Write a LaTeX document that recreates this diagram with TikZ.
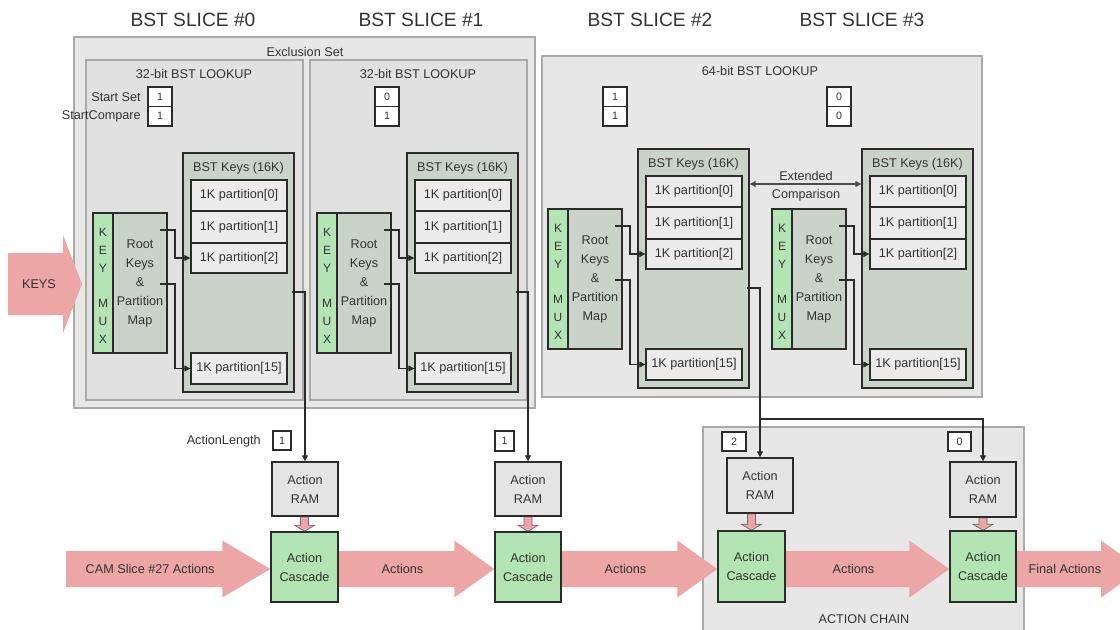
\documentclass[tikz,border=0pt]{standalone}
\usepackage{fontspec}
\setmainfont{Liberation Sans}
\usetikzlibrary{arrows.meta,calc}

\definecolor{txtc}{HTML}{333333}
\definecolor{linec}{HTML}{2B2B2B}
\definecolor{grayline}{HTML}{A9A9A9}
\definecolor{grpfillA}{HTML}{E7E7E7}
\definecolor{grpfillB}{HTML}{E1E1E1}
\definecolor{ggc}{HTML}{CAD3CA}
\definecolor{partc}{HTML}{EBEBEB}
\definecolor{greenc}{HTML}{B3E4B3}
\definecolor{ramc}{HTML}{E4E4E4}
\definecolor{pinkc}{HTML}{ECA6A6}

\pgfdeclarelayer{backdrop}
\pgfdeclarelayer{arrows}
\pgfsetlayers{backdrop,arrows,main}

\tikzset{
  >={Triangle[length=4.5pt,width=4.5pt]},
  lbl/.style={text=txtc, font=\fontsize{9.5}{14.25}\selectfont, align=center, inner sep=0pt},
  hdr/.style={text=txtc, font=\fontsize{14.4}{17}\selectfont, inner sep=0pt},
  grpA/.style={draw=grayline, line width=0.9pt, fill=grpfillA},
  grpB/.style={draw=grayline, line width=0.9pt, fill=grpfillB},
  keysbox/.style={draw=linec, line width=1.1pt, fill=ggc, text=txtc, align=center,
    font=\fontsize{9.5}{14.25}\selectfont},
  part/.style={draw=linec, line width=1pt, fill=partc, text=txtc,
    font=\fontsize{9.5}{14.25}\selectfont},
  mux/.style={draw=linec, line width=1pt, fill=greenc},
  numbox/.style={draw=linec, line width=1pt, fill=white, text=txtc,
    font=\fontsize{8}{9}\selectfont},
  ram/.style={draw=linec, line width=1.1pt, fill=ramc, text=txtc, align=center,
    font=\fontsize{9.5}{14.25}\selectfont},
  casc/.style={draw=linec, line width=1.1pt, fill=greenc, text=txtc, align=center,
    font=\fontsize{9.5}{14.25}\selectfont},
  conn/.style={draw=linec, line width=0.9pt},
  bigarrow/.style={fill=pinkc},
  smallarrow/.style={fill=pinkc, draw=linec!70, line width=0.5pt},
}

% rectangle node from its corners (x1,y1)-(x2,y2), given in pixels
\newcommand\bx[7]{%
  \node[#1, inner sep=0pt, minimum width={(#5-(#3))*0.75pt},
        minimum height={(#6-(#4))*0.75pt}] (#2) at ({(#3+#5)/2},{(#4+#6)/2}) {#7};}

% wide block arrow: start, tip, head length, label
\newcommand\blockarrow[4]{%
  \fill[bigarrow] let \p1=(#1), \p2=(#2) in
    (\x1,\y2+13.5pt) -- (\x2-#3,\y2+13.5pt) -- (\x2-#3,\y2+21.4pt) -- (\x2,\y2)
    -- (\x2-#3,\y2-21.4pt) -- (\x2-#3,\y2-13.5pt) -- (\x1,\y2-13.5pt) -- cycle;
  \path let \p1=(#1), \p2=(#2) in
    node[lbl] at ({(\x1+\x2-#3)/2+4.5pt},\y2) {#4};}

% short downward block arrow from one node to the one below it
\newcommand\droparrow[2]{%
  \filldraw[smallarrow] let \p1=(#1.south), \p2=(#2.north) in
    (\x2-3pt,\y1) -- (\x2+3pt,\y1) -- (\x2+3pt,\y2+4.5pt) -- (\x2+7.5pt,\y2+4.5pt)
    -- (\x2,\y2) -- (\x2-7.5pt,\y2+4.5pt) -- (\x2-3pt,\y2+4.5pt) -- cycle;}

% one BST slice: key store, partitions, key mux and root map
\newcommand\bstslice[3]{%
  \begin{scope}[shift={(#2,#3)}]
    \bx{keysbox}{kb#1}{183}{153}{294}{392}{}
    \node[lbl] at (238.5,168) {BST Keys (16K)};
    \bx{part}{pa#1}{191}{180}{287}{211}{1K partition[0]}
    \bx{part}{pb#1}{191}{211}{287}{243}{1K partition[1]}
    \bx{part}{pc#1}{191}{243}{287}{273}{1K partition[2]}
    \bx{part}{pd#1}{191}{353}{287}{384}{1K partition[15]}
    \bx{mux}{mx#1}{93}{213}{113}{353}{}
    \bx{keysbox}{rk#1}{113}{213}{167}{353}{Root\\Keys\\\&\\Partition\\Map}
    \foreach \c/\yy in {K/232,E/250,Y/268,M/303,U/321,X/339}
      \node[lbl, font=\fontsize{9}{10}\selectfont] at (103,\yy) {\c};
    \coordinate (ra#1) at (160,230);
    \coordinate (rb#1) at (160,284);
    \coordinate (out#1) at (292,292);
    \draw[conn,->] (ra#1) -- ++(15,0) |- (pc#1.west);
    \draw[conn,->] (rb#1) -- ++(15,0) |- (pd#1.west);
  \end{scope}}

\begin{document}
\begin{tikzpicture}[x=0.75pt,y=-0.75pt]
\useasboundingbox (0,0) rectangle (1120,629);

% slice headings
\node[hdr] at (193,19.5) {BST SLICE \#0};
\node[hdr] at (421,19.5) {BST SLICE \#1};
\node[hdr] at (650,19.5) {BST SLICE \#2};
\node[hdr] at (862,19.5) {BST SLICE \#3};

% grouping panels
\begin{pgfonlayer}{backdrop}
  \bx{grpA}{excl}{74}{37}{535}{408}{}
  \bx{grpB}{lk0}{86}{60}{303}{400}{}
  \bx{grpB}{lk1}{310}{60}{527}{400}{}
  \bx{grpA}{lk64}{542}{56}{982}{397}{}
  \bx{grpA}{chain}{703}{427}{1024}{632}{}
\end{pgfonlayer}
\node[lbl] at (305,52) {Exclusion Set};
\node[lbl] at (194,74) {32-bit BST LOOKUP};
\node[lbl] at (418,74) {32-bit BST LOOKUP};
\node[lbl] at (760,71) {64-bit BST LOOKUP};
\node[lbl] at (864,619) {ACTION CHAIN};

% Start Set / StartCompare registers
\node[lbl, anchor=east] at (141,97) {Start Set};
\node[lbl, anchor=east] at (141,116) {StartCompare};
\bx{numbox}{ss0}{148}{87}{172}{106.5}{1}
\bx{numbox}{sc0}{148}{106.5}{172}{126}{1}
\bx{numbox}{ss1}{375}{87}{399}{106.5}{0}
\bx{numbox}{sc1}{375}{106.5}{399}{126}{1}
\bx{numbox}{ss2}{603}{87}{627}{106.5}{1}
\bx{numbox}{sc2}{603}{106.5}{627}{126}{1}
\bx{numbox}{ss3}{827}{87}{851}{106.5}{0}
\bx{numbox}{sc3}{827}{106.5}{851}{126}{0}

% the four slices
\bstslice{0}{0}{0}
\bstslice{1}{224}{0}
\bstslice{2}{455}{-4}
\bstslice{3}{679}{-4}

% extended comparison between slices 2 and 3
\draw[conn, draw=linec!85, <->] (kb2.east |- 0,184) -- (kb3.west |- 0,184);
\node[lbl] at (806,176) {Extended};
\node[lbl] at (806,195) {Comparison};

% action length registers
\node[lbl, anchor=east] at (261,441) {ActionLength};
\bx{numbox}{al0}{273}{431}{291}{450}{1}
\bx{numbox}{al1}{495}{431}{514}{451}{1}
\bx{numbox}{al2}{722}{432}{746}{451}{2}
\bx{numbox}{al3}{948}{432}{971}{451}{0}

% action RAMs and cascades
\bx{ram}{ram0}{272}{462}{338}{516}{Action\\RAM}
\bx{ram}{ram1}{495}{462}{561}{516}{Action\\RAM}
\bx{ram}{ram2}{727}{458}{793}{513}{Action\\RAM}
\bx{ram}{ram3}{950}{462}{1016}{517}{Action\\RAM}
\bx{casc}{cas0}{271}{532}{338}{602}{Action\\Cascade}
\bx{casc}{cas1}{495}{532}{561}{602}{Action\\Cascade}
\bx{casc}{cas2}{718}{531}{785}{602}{Action\\Cascade}
\bx{casc}{cas3}{950}{531}{1016}{602}{Action\\Cascade}

% lookup results to action RAMs
\draw[conn,->] (out0) -| (ram0.north);
\draw[conn,->] (out1) -| (ram1.north);
\draw[conn,->] (out2) -| (ram2.north);
\coordinate (br) at (ram2.north |- 0,419);
\draw[conn,->] (br) -| (ram3.north);

% action flow
\coordinate (row) at (0,569);
\coordinate (camstart) at (66,569);
\coordinate (finaltip) at (1141,569);
\begin{pgfonlayer}{arrows}
  \fill[bigarrow] (8,253) -- (63,253) -- (63,235) -- (82,284) -- (63,333)
    -- (63,315) -- (8,315) -- cycle;
  \blockarrow{camstart}{cas0.west |- row}{36pt}{CAM Slice \#27 Actions}
  \blockarrow{cas0.east |- row}{cas1.west |- row}{30pt}{Actions}
  \blockarrow{cas1.east |- row}{cas2.west |- row}{30pt}{Actions}
  \blockarrow{cas2.east |- row}{cas3.west |- row}{30pt}{Actions}
  \blockarrow{cas3.east |- row}{finaltip}{30pt}{Final Actions}
  \droparrow{ram0}{cas0}
  \droparrow{ram1}{cas1}
  \droparrow{ram2}{cas2}
  \droparrow{ram3}{cas3}
\end{pgfonlayer}
\node[lbl] at (39,284) {KEYS};
\end{tikzpicture}
\end{document}
